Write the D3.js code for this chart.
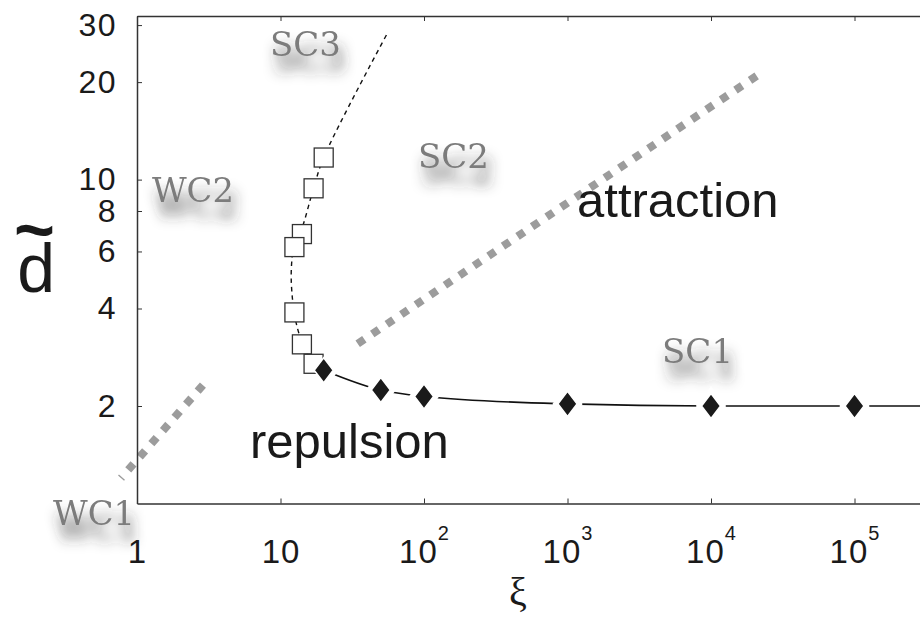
<!DOCTYPE html>
<html>
<head>
<meta charset="utf-8">
<script src="https://cdn.jsdelivr.net/npm/d3@7"></script>
<style>
  body { margin: 0; background: #fff; }
  svg { display: block; }
  .axis path, .axis line { stroke: #333; }
  .axis path { stroke-width: 1.5; }
</style>
</head>
<body>
<div id="chart"></div>
<script>

// open squares: xi, d~
const squareXi = [20, 17, 14.1, 12.5, 12.5, 14.1, 17];
const squareD  = [11.7, 9.4, 6.79, 6.19, 3.89, 3.10, 2.70];

// filled diamonds
const diamondXi = [20, 50, 100, 1000, 1e4, 1e5];
const diamondD  = [2.58, 2.24, 2.14, 2.03, 2.0, 2.0];

// dashed guide through the squares
const dashFitXi = [17, 14.3, 12.7, 12.0, 11.9, 12.4, 14, 17, 20, 56];
const dashFitD  = [2.70, 3.10, 3.7, 4.5, 5.3, 6.2, 7.0, 9.4, 11.7, 28.5];

// solid guide through the diamonds
const solidFitXi = [20, 50, 100, 1000, 1e4, 1e5, 2.86e5];
const solidFitD  = [2.58, 2.24, 2.14, 2.03, 2.0, 2.0, 2.0];

// gray boundaries (upper end first)
const wcBoundXi = [2.88, 0.774];
const wcBoundD  = [2.32, 1.198];
const scBoundXi = [20800, 32.2];
const scBoundD  = [20.9, 3.05];

// ticks
const xTicks = [1, 10, 100, 1000, 1e4, 1e5];
const yTicks = [2, 4, 6, 8, 10, 20, 30];

// region labels
const regionNames = ["SC3", "SC2", "WC2", "SC1", "WC1"];
const regionXi    = [8.45, 90.8, 1.27, 4560, 0.26];
const regionD     = [24.0, 10.85, 8.52, 2.71, 0.858];

// regime words
const regimeNames = ["attraction", "repulsion"];
const regimeXi    = [1165, 6.13];
const regimeD     = [7.66, 1.38];


const W = 920, H = 621;
const margin = {top: 16, right: 0, bottom: 117.5, left: 137};
const width = W - margin.left - margin.right;
const height = H - margin.top - margin.bottom;

const svg = d3.select("#chart").append("svg")
    .attr("width", W)
    .attr("height", H)
    .style("font-family", "'Liberation Sans', Arial, sans-serif");

// shadow filter for region labels
const defs = svg.append("defs");
const f = defs.append("filter").attr("id", "blob")
    .attr("x", "-50%").attr("y", "-50%").attr("width", "200%").attr("height", "250%");
f.append("feDropShadow")
    .attr("dx", 4).attr("dy", 15)
    .attr("stdDeviation", 6.5)
    .attr("flood-color", "#333")
    .attr("flood-opacity", 0.9);

const g = svg.append("g")
    .attr("transform", "translate(" + margin.left + "," + margin.top + ")");

const x = d3.scaleLog().domain([1, 2.86e5]).range([0, width]);
const y = d3.scaleLog().domain([1, 32]).range([height, 0]);

// region labels first (they sit under everything)
g.selectAll(".region")
    .data(regionNames)
    .enter()
    .append("text")
    .attr("class", "region")
    .attr("x", (d, i) => x(regionXi[i]))
    .attr("y", (d, i) => y(regionD[i]))
    .attr("font-family", "'DejaVu Serif', serif")
    .attr("font-size", 34)
    .attr("textLength", d => d[0] === "W" ? 82 : 71)
    .attr("lengthAdjust", "spacingAndGlyphs")
    .attr("fill", "#7c7c7c")
    .attr("filter", "url(#blob)")
    .text(d => d);

// gray boundaries
const line = d3.line().x(d => x(d[0])).y(d => y(d[1]));

[[wcBoundXi, wcBoundD], [scBoundXi, scBoundD]].forEach(b => {
    g.append("path")
        .datum(b[0].map((v, i) => [v, b[1][i]]))
        .attr("d", line)
        .attr("fill", "none")
        .attr("stroke", "#9c9c9c")
        .attr("stroke-width", 8)
        .attr("stroke-dasharray", "8,9.5");
});

// guide curves
const curvy = d3.line().x(d => x(d[0])).y(d => y(d[1])).curve(d3.curveCatmullRom);
const mono = d3.line().x(d => x(d[0])).y(d => y(d[1])).curve(d3.curveMonotoneX);

g.append("path")
    .datum(dashFitXi.map((v, i) => [v, dashFitD[i]]))
    .attr("d", curvy)
    .attr("fill", "none")
    .attr("stroke", "#111")
    .attr("stroke-width", 1.4)
    .attr("stroke-dasharray", "4.5,4");

g.append("path")
    .datum(solidFitXi.map((v, i) => [v, solidFitD[i]]))
    .attr("d", mono)
    .attr("fill", "none")
    .attr("stroke", "#111")
    .attr("stroke-width", 1.6);

// diamond shape
const dw = 9.5, dh = 12.5;
const diamond = "M0," + (-dh) + "L" + dw + ",0L0," + dh + "L" + (-dw) + ",0Z";

// white halos cut the solid line next to each diamond
g.selectAll(".halo")
    .data(diamondXi)
    .enter()
    .append("path")
    .attr("class", "halo")
    .attr("d", diamond)
    .attr("transform", (d, i) => "translate(" + x(d) + "," + y(diamondD[i]) + ")")
    .attr("fill", "#fff")
    .attr("stroke", "#fff")
    .attr("stroke-width", 9);

// open squares
const sq = 19;
g.selectAll(".sq")
    .data(squareXi)
    .enter()
    .append("rect")
    .attr("class", "sq")
    .attr("x", d => x(d) - sq / 2)
    .attr("y", (d, i) => y(squareD[i]) - sq / 2)
    .attr("width", sq)
    .attr("height", sq)
    .attr("fill", "#fff")
    .attr("stroke", "#333")
    .attr("stroke-width", 1.3);

// filled diamonds
g.selectAll(".dia")
    .data(diamondXi)
    .enter()
    .append("path")
    .attr("class", "dia")
    .attr("d", diamond)
    .attr("transform", (d, i) => "translate(" + x(d) + "," + y(diamondD[i]) + ")")
    .attr("fill", "#1a1a1a")
    .attr("stroke", "#fff")
    .attr("stroke-width", 1.5);

// regime words
g.selectAll(".regime")
    .data(regimeNames)
    .enter()
    .append("text")
    .attr("class", "regime")
    .attr("x", (d, i) => x(regimeXi[i]))
    .attr("y", (d, i) => y(regimeD[i]))
    .attr("font-size", 49)
    .attr("fill", "#1a1a1a")
    .text(d => d);

// axes
const xAxis = d3.axisBottom(x).tickValues(xTicks).tickSize(-5).tickSizeOuter(0);
const xTop = d3.axisTop(x).tickValues(xTicks).tickSize(-5).tickSizeOuter(0).tickFormat("");
const yAxis = d3.axisLeft(y).tickValues(yTicks).tickSize(-5).tickSizeOuter(0)
    .tickPadding(20).tickFormat(d3.format("d"));

const gx = g.append("g").attr("class", "axis")
    .attr("transform", "translate(0," + height + ")")
    .call(xAxis);

gx.selectAll(".tick text")
    .attr("y", 59)
    .attr("dy", 0)
    .attr("font-size", 33)
    .attr("letter-spacing", 1)
    .attr("fill", "#1a1a1a")
    .attr("font-family", "'Liberation Sans', Arial, sans-serif")
    .each(function(d) {
        const t = d3.select(this);
        const e = Math.round(Math.log10(d));
        t.text(null);
        if (e < 2) {
            t.text(d);
        } else {
            t.append("tspan").text("10");
            t.append("tspan").attr("dy", -23).attr("font-size", 20).text(e);
        }
    });

g.append("g").attr("class", "axis").call(xTop);

const gy = g.append("g").attr("class", "axis").call(yAxis);
gy.selectAll(".tick text")
    .attr("font-size", 32)
    .attr("letter-spacing", 1.5)
    .attr("fill", "#1a1a1a")
    .attr("font-family", "'Liberation Sans', Arial, sans-serif");

// axis titles: d with a tilde on top, one text element
const dLabel = svg.append("text")
    .attr("x", 14)
    .attr("y", 292)
    .attr("font-size", 68)
    .attr("fill", "#1a1a1a");
dLabel.append("tspan").text("d");
dLabel.append("tspan")
    .attr("dx", -41)
    .attr("dy", -38)
    .attr("font-size", 70)
    .attr("font-weight", "bold")
    .text("~");

svg.append("text")
    .attr("x", 518)
    .attr("y", 605)
    .attr("text-anchor", "middle")
    .attr("font-family", "'Liberation Serif', 'Times New Roman', serif")
    .attr("font-size", 40)
    .attr("fill", "#1a1a1a")
    .text("ξ");

</script>
</body>
</html>
